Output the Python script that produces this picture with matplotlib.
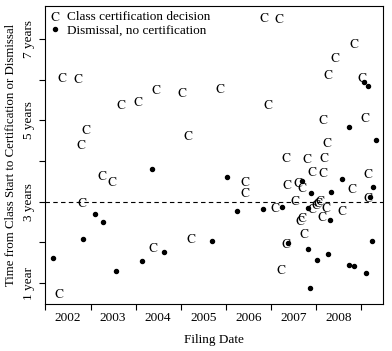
import matplotlib.pyplot as plt
import numpy as np

plt.rcParams['font.family'] = ['Liberation Serif', 'DejaVu Serif']
plt.rcParams['mathtext.fontset'] = 'stix'

# class certification decisions (filing date, years to decision)
cert_x = [2002.37, 2002.72, 2002.90, 2002.79, 2002.81, 2003.25, 2003.47, 2003.67,
          2004.05, 2004.45, 2005.03, 2005.16, 2004.38, 2002.30, 2005.23, 2005.87,
          2006.85, 2007.18, 2006.93, 2006.42, 2006.42, 2008.84, 2008.42, 2008.26,
          2009.02, 2008.15, 2009.08, 2008.24, 2007.33, 2007.80, 2008.18, 2007.91,
          2008.15, 2009.15, 2007.35, 2007.60, 2007.69, 2007.53, 2007.09, 2007.91,
          2008.00, 2008.04, 2008.09, 2008.22, 2008.57, 2007.64, 2007.69, 2008.13,
          2007.73, 2007.33, 2007.22, 2009.15, 2008.80]
cert_y = [6.06, 6.04, 4.79, 4.42, 2.99, 3.66, 3.51, 5.40,
          5.47, 5.77, 5.70, 4.64, 1.89, 0.76, 2.11, 5.79,
          7.54, 7.51, 5.40, 3.51, 3.24, 6.90, 6.56, 6.14,
          6.06, 5.03, 5.08, 4.47, 4.10, 4.07, 4.10, 3.75,
          3.73, 3.71, 3.43, 3.48, 3.36, 3.04, 2.87, 2.85,
          2.94, 2.99, 3.04, 2.87, 2.80, 2.55, 2.62, 2.65,
          2.23, 1.99, 1.35, 3.12, 3.34]

# dismissals without certification
dism_x = [2002.17, 2002.83, 2003.10, 2003.27, 2003.56, 2004.14, 2004.63, 2004.36,
          2005.69, 2006.02, 2006.25, 2006.82, 2007.24, 2007.69, 2007.89, 2008.33,
          2008.57, 2009.26, 2009.20, 2007.82, 2008.31, 2007.38, 2007.82, 2008.26,
          2008.02, 2009.24, 2008.73, 2008.84, 2009.11, 2007.86, 2009.06, 2009.15,
          2008.73, 2009.33]
dism_y = [1.62, 2.08, 2.70, 2.50, 1.30, 1.54, 1.76, 3.80,
          2.03, 3.61, 2.77, 2.82, 2.87, 3.51, 3.21, 3.24,
          3.56, 3.36, 3.12, 2.85, 2.55, 1.99, 1.84, 1.71,
          1.57, 2.03, 1.44, 1.42, 1.25, 0.88, 5.94, 5.84,
          4.84, 4.52]

years = list(range(2002, 2010))
year_labels = [str(y) for y in range(2002, 2009)]
ytick_vals = [1, 3, 5, 7]
ytick_labels = ['1 year', '3 years', '5 years', '7 years']

fig = plt.figure(figsize=(3.92, 3.51), dpi=100)
ax = fig.add_axes([0.116, 0.134, 0.861, 0.849])

ax.axhline(3, color='black', ls=(0, (4, 3)), lw=0.8, zorder=1)
ax.plot(cert_x, cert_y, ls='none', marker=r'$\mathrm{C}$', ms=6.5,
        color='black', mew=0, label='Class certification decision')
ax.plot(dism_x, dism_y, ls='none', marker='o', ms=2.9, color='black',
        label='Dismissal, no certification')

ax.set_xlim(2002, 2009.49)
ax.set_ylim(0.49, 7.81)

ax.set_xticks(years)
ax.set_xticklabels([])
ax.set_xticks(np.arange(2002.5, 2009, 1), minor=True)
ax.set_xticklabels(year_labels, minor=True, fontsize=9.5)
ax.tick_params(axis='x', which='minor', length=0, pad=6)
ax.tick_params(axis='x', which='major', length=4.5, width=0.8)

ax.set_yticks(range(1, 8))
ax.set_yticklabels(['' if v not in ytick_vals else ytick_labels[ytick_vals.index(v)]
                    for v in range(1, 8)], rotation=90, va='center', fontsize=9.5)
ax.tick_params(axis='y', length=4.5, width=0.8, pad=3)

for s in ax.spines.values():
    s.set_linewidth(0.8)

ax.set_xlabel('Filing Date', fontsize=9.5, labelpad=7)
ax.set_ylabel('Time from Class Start to Certification or Dismissal', fontsize=9.3, labelpad=4)

ax.legend(loc='upper left', frameon=False, fontsize=9.5, handlelength=0.6,
          handletextpad=0.6, borderaxespad=0.2, labelspacing=0.05, borderpad=0.2,
          markerscale=1.0)

fig.savefig('out.png', dpi=100)
